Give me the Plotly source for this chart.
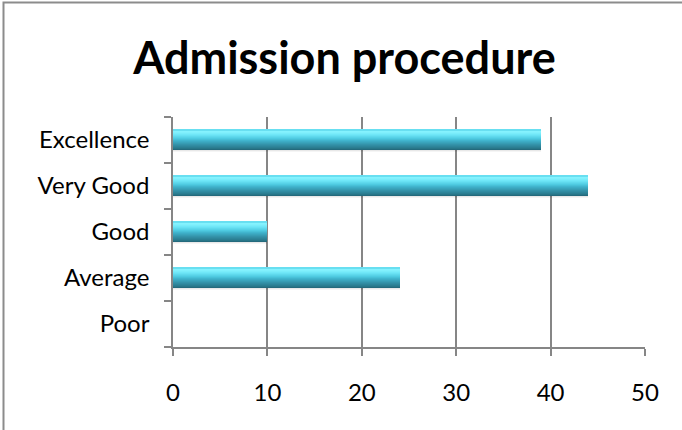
import plotly.graph_objects as go

# ---- data ----
categories = ["Poor", "Average", "Good", "Very Good", "Excellence"]
values = [0, 24, 10, 44, 39]
x_ticks = [0, 10, 20, 30, 40, 50]
title_text = "Admission procedure"

# ---- style: key colours of the cylinder shading, bottom (0) to top (1) ----
shade_stops = [
    (0.00, (0x22, 0x65, 0x77)),
    (0.10, (0x2a, 0x7b, 0x8e)),
    (0.28, (0x34, 0x94, 0xab)),
    (0.46, (0x3f, 0xb2, 0xcb)),
    (0.58, (0x4f, 0xcb, 0xe2)),
    (0.76, (0x6e, 0xe6, 0xf7)),
    (0.92, (0x88, 0xf4, 0xff)),
    (1.00, (0x5a, 0xd6, 0xea)),
]
BAR_LO, BAR_HI = -0.20, 0.218
N_STRIPS = 20


def shade(t):
    for (t0, c0), (t1, c1) in zip(shade_stops, shade_stops[1:]):
        if t0 <= t <= t1:
            f = (t - t0) / (t1 - t0) if t1 > t0 else 0
            return "rgb(%d,%d,%d)" % tuple(round(a + (b - a) * f) for a, b in zip(c0, c1))
    return "rgb(%d,%d,%d)" % shade_stops[-1][1]


W, H = 682, 430
L, R, T, B = 173, 37, 117, 83

fig = go.Figure()
# soft shadow under each bar
for lo, hi, a in [(-0.26, -0.23, 0.04), (-0.23, BAR_LO, 0.09)]:
    fig.add_trace(go.Bar(
        y=categories, x=values, orientation="h", width=hi - lo, offset=lo,
        marker=dict(color="rgba(0,0,0,%.2f)" % a, line=dict(width=0)),
        hoverinfo="skip", showlegend=False,
    ))
step = (BAR_HI - BAR_LO) / N_STRIPS
for i in range(N_STRIPS):
    lo = BAR_LO + i * step
    fig.add_trace(go.Bar(
        y=categories, x=values, orientation="h",
        width=step * 1.02, offset=lo,
        marker=dict(color=shade((i + 0.5) / N_STRIPS), line=dict(width=0)),
        hoverinfo="x+y" if i == 0 else "skip", showlegend=False,
    ))

gray = "#868686"
fig.update_layout(
    width=W, height=H,
    margin=dict(l=L, r=R, t=T, b=B),
    paper_bgcolor="white", plot_bgcolor="white",
    barmode="overlay", bargap=0,
    font=dict(family="Lato, Calibri, sans-serif", color="#000000"),
    title=dict(text="<b>" + title_text + "</b>", x=0.505, xanchor="center",
               y=1 - 58 / H, yanchor="middle", yref="container",
               font=dict(size=45, color="#000000")),
    xaxis=dict(range=[0, 50], tickvals=x_ticks, showgrid=True,
               gridcolor=gray, gridwidth=1.5, showline=True, linecolor=gray,
               linewidth=1.5, ticks="outside", ticklen=7, tickcolor=gray,
               tickwidth=1.5, tickfont=dict(size=24), zeroline=False,
               ticklabelstandoff=16, fixedrange=True),
    yaxis=dict(categoryorder="array", categoryarray=categories,
               showline=True, linecolor=gray, linewidth=1.5,
               ticks="outside", ticklen=7, tickcolor=gray, tickwidth=1.5,
               tickson="boundaries", showgrid=False, tickfont=dict(size=24),
               ticklabelstandoff=17, fixedrange=True),
    shapes=[dict(type="rect", xref="paper", yref="paper",
                 x0=(3.5 - L) / (W - L - R), x1=2,
                 y0=-2, y1=(H - B - 2.5) / (H - T - B),
                 line=dict(color="#8c8c8c", width=2), layer="above")],
)

fig.write_html("out.html", config={"displayModeBar": False},
               post_script="document.body.style.margin='0';")
